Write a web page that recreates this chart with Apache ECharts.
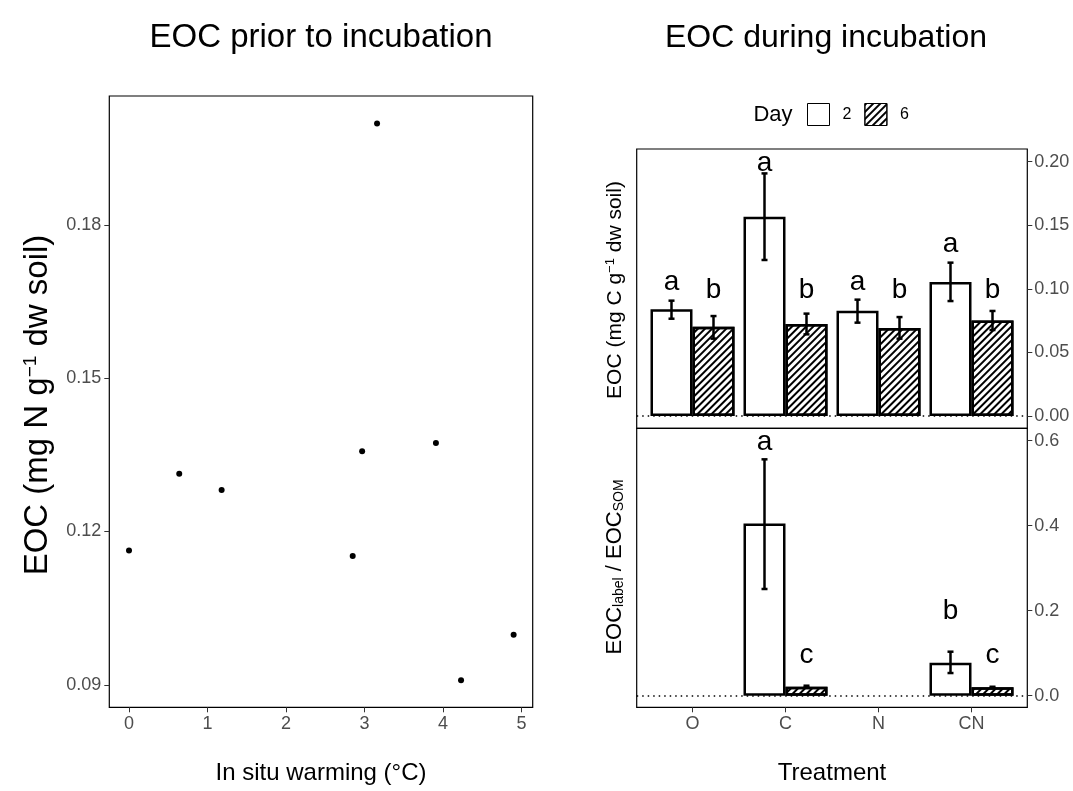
<!DOCTYPE html>
<html>
<head>
<meta charset="utf-8">
<title>EOC prior to and during incubation</title>
<script src="https://cdn.jsdelivr.net/npm/echarts@6/dist/echarts.min.js"></script>
<style>
    html, body { margin: 0; padding: 0; background: #fff; }
    #chart { width: 1073px; height: 791px; }
</style>
</head>
<body>
<div id="chart"></div>
<script>
// ---- left panel: EOC vs in situ warming ----
const warming = [0, 0.64, 1.18, 2.85, 2.97, 3.16, 3.91, 4.23, 4.90];
const eocPrior = [0.1163, 0.1313, 0.1281, 0.1152, 0.1357, 0.1998, 0.1373, 0.0909, 0.0998];
const warmingTicks = [0, 1, 2, 3, 4, 5];
const eocPriorTicks = [0.09, 0.12, 0.15, 0.18];

// ---- right panel: EOC during incubation ----
const treatments = ['O', 'C', 'N', 'CN'];
const days = ['2', '6'];

// top: EOC (mg C / g dw soil)
const eocDay2 = [0.0839, 0.1567, 0.0828, 0.1054];
const eocDay2Lo = [0.0765, 0.1227, 0.0734, 0.0904];
const eocDay2Hi = [0.0907, 0.1908, 0.0915, 0.1206];
const eocDay6 = [0.0702, 0.0723, 0.0692, 0.0750];
const eocDay6Lo = [0.0608, 0.0642, 0.0608, 0.0676];
const eocDay6Hi = [0.0786, 0.0805, 0.0778, 0.0826];
const eocLetters2 = ['a', 'a', 'a', 'a'];
const eocLetters2Y = [0.105, 0.1987, 0.105, 0.135];
const eocLetters6 = ['b', 'b', 'b', 'b'];
const eocLetters6Y = [0.0986, 0.0986, 0.0986, 0.0986];
const eocTicks = [0, 0.05, 0.10, 0.15, 0.20];

// bottom: EOC label / EOC SOM
const ratioDay2 = [null, 0.405, null, 0.0776];
const ratioDay2Lo = [null, 0.251, null, 0.0533];
const ratioDay2Hi = [null, 0.556, null, 0.1035];
const ratioDay6 = [null, 0.0212, null, 0.0196];
const ratioDay6Lo = [null, 0.0190, null, 0.0182];
const ratioDay6Hi = [null, 0.0235, null, 0.0210];
const ratioLetters2 = [null, 'a', null, 'b'];
const ratioLetters2Y = [null, 0.596, null, 0.198];
const ratioLetters6 = [null, 'c', null, 'c'];
const ratioLetters6Y = [null, 0.0956, null, 0.0956];
const ratioTicks = [0, 0.2, 0.4, 0.6];

const FONT = '"Liberation Sans", Arial, Helvetica, sans-serif';
const BAR_W = 42;
const LABEL_GREY = '#4d4d4d';
const TICK_GREY = '#333';

const hatch = {
    symbol: 'rect',
    symbolSize: 1,
    color: '#000',
    dashArrayX: [1, 0],
    dashArrayY: [1.4, 2.8],
    rotation: -Math.PI / 4
};

const barStyle = { color: '#fff', borderColor: '#000', borderWidth: 2.5 };

function barSeries(name, grid, values, withHatch, withZeroLine) {
    const s = {
        name: name,
        type: 'bar',
        xAxisIndex: grid,
        yAxisIndex: grid,
        barWidth: BAR_W,
        barGap: '0%',
        silent: true,
        itemStyle: withHatch ? Object.assign({ decal: hatch }, barStyle) : barStyle,
        data: values.map((v, i) => [i + 1, v == null ? '-' : v])
    };
    if (withZeroLine) {
        s.markLine = {
            silent: true,
            symbol: 'none',
            label: { show: false },
            lineStyle: { type: [1.5, 4], color: '#000', width: 1.5 },
            data: [{ yAxis: 0 }]
        };
    }
    return s;
}

// error bars plus significance letters, shifted to the dodged bar centre
function errorSeries(grid, lo, hi, letters, letterY, side) {
    return {
        type: 'custom',
        xAxisIndex: grid,
        yAxisIndex: grid,
        silent: true,
        z: 5,
        data: treatments.map((t, i) => [i + 1, hi[i] == null ? 0 : hi[i]]),
        renderItem: (params, api) => {
            const i = params.dataIndex;
            const children = [];
            const cx = api.coord([i + 1, 0])[0] + side * BAR_W / 2;
            if (hi[i] != null) {
                const yTop = api.coord([i + 1, hi[i]])[1];
                const yBot = api.coord([i + 1, lo[i]])[1];
                const ls = { stroke: '#000', lineWidth: 2.5 };
                children.push({ type: 'line', shape: { x1: cx, y1: yTop, x2: cx, y2: yBot }, style: ls });
                children.push({ type: 'line', shape: { x1: cx - 3, y1: yTop, x2: cx + 3, y2: yTop }, style: ls });
                children.push({ type: 'line', shape: { x1: cx - 3, y1: yBot, x2: cx + 3, y2: yBot }, style: ls });
            }
            if (letters[i] != null) {
                const ly = api.coord([i + 1, letterY[i]])[1];
                children.push({
                    type: 'text',
                    x: cx,
                    y: ly,
                    style: {
                        text: letters[i],
                        fontFamily: FONT,
                        fontSize: 28,
                        fill: '#000',
                        align: 'center',
                        verticalAlign: 'middle'
                    }
                });
            }
            return { type: 'group', children: children };
        }
    };
}

const chart = echarts.init(document.getElementById('chart'));

const gridBase = { show: true, borderColor: '#000', borderWidth: 1.2, backgroundColor: 'transparent', outerBoundsMode: 'none' };
const noLine = { show: false, onZero: false };

const option = {
    animation: false,
    backgroundColor: '#fff',
    textStyle: { fontFamily: FONT },
    grid: [
        Object.assign({ left: 109.3, top: 96, width: 423.4, height: 611.3 }, gridBase),
        Object.assign({ left: 636.7, top: 149, width: 390.6, height: 279.3 }, gridBase),
        Object.assign({ left: 636.7, top: 428.3, width: 390.6, height: 279 }, gridBase)
    ],
    xAxis: [
        {
            gridIndex: 0, type: 'value', min: -0.251, max: 5.143,
            axisLine: noLine, splitLine: { show: false },
            axisTick: { length: 5, lineStyle: { color: TICK_GREY }, customValues: warmingTicks },
            axisLabel: { customValues: warmingTicks, color: LABEL_GREY, fontSize: 18, margin: 8, fontFamily: FONT }
        },
        {
            gridIndex: 1, type: 'value', min: 0.4, max: 4.6,
            axisLine: noLine, splitLine: { show: false },
            axisTick: { show: false }, axisLabel: { show: false }
        },
        {
            gridIndex: 2, type: 'value', min: 0.4, max: 4.6,
            axisLine: noLine, splitLine: { show: false },
            axisTick: { length: 5, lineStyle: { color: TICK_GREY }, customValues: [1, 2, 3, 4] },
            axisLabel: {
                customValues: [1, 2, 3, 4], color: LABEL_GREY, fontSize: 18, margin: 8, fontFamily: FONT,
                formatter: v => treatments[Math.round(v) - 1]
            }
        }
    ],
    yAxis: [
        {
            gridIndex: 0, type: 'value', min: 0.0856, max: 0.2052,
            axisLine: noLine, splitLine: { show: false },
            axisTick: { length: 5, lineStyle: { color: TICK_GREY }, customValues: eocPriorTicks },
            axisLabel: { customValues: eocPriorTicks, color: LABEL_GREY, fontSize: 18, margin: 8, fontFamily: FONT, formatter: v => v.toFixed(2) }
        },
        {
            gridIndex: 1, type: 'value', position: 'right', min: -0.0097, max: 0.21,
            axisLine: noLine, splitLine: { show: false },
            axisTick: { length: 5, lineStyle: { color: TICK_GREY }, customValues: eocTicks },
            axisLabel: { customValues: eocTicks, color: LABEL_GREY, fontSize: 18, margin: 7, fontFamily: FONT, formatter: v => v.toFixed(2) }
        },
        {
            gridIndex: 2, type: 'value', position: 'right', min: -0.0273, max: 0.629,
            axisLine: noLine, splitLine: { show: false },
            axisTick: { length: 5, lineStyle: { color: TICK_GREY }, customValues: ratioTicks },
            axisLabel: { customValues: ratioTicks, color: LABEL_GREY, fontSize: 18, margin: 7, fontFamily: FONT, formatter: v => v.toFixed(1) }
        }
    ],
    legend: {
        data: days,
        left: 807, top: 103,
        padding: 0,
        itemWidth: 22, itemHeight: 22, itemGap: 13,
        icon: 'rect',
        selectedMode: false,
        itemStyle: { borderColor: '#000', borderWidth: 1 },
        textStyle: { fontSize: 16, color: '#000', fontFamily: FONT, padding: [0, 0, 0, 8] }
    },
    graphic: [
        { type: 'text', x: 321, y: 38, style: { text: 'EOC prior to incubation', fontFamily: FONT, fontSize: 33, fill: '#000', align: 'center', verticalAlign: 'middle' } },
        { type: 'text', x: 826, y: 38, style: { text: 'EOC during incubation', fontFamily: FONT, fontSize: 32, fill: '#000', align: 'center', verticalAlign: 'middle' } },
        { type: 'text', x: 321, y: 773, style: { text: 'In situ warming (°C)', fontFamily: FONT, fontSize: 24, fill: '#000', align: 'center', verticalAlign: 'middle' } },
        { type: 'text', x: 832, y: 773, style: { text: 'Treatment', fontFamily: FONT, fontSize: 24, fill: '#000', align: 'center', verticalAlign: 'middle' } },
        { type: 'text', x: 773, y: 115, style: { text: 'Day', fontFamily: FONT, fontSize: 22, fill: '#000', align: 'center', verticalAlign: 'middle' } },
        {
            type: 'text', x: 38, y: 405, rotation: Math.PI / 2,
            style: {
                text: 'EOC (mg N g{sup|−1} dw soil)', fontFamily: FONT, fontSize: 33, fill: '#000', align: 'center', verticalAlign: 'middle',
                rich: { sup: { fontSize: 19, fontFamily: FONT, verticalAlign: 'top', padding: [0, 0, 14, 0] } }
            }
        },
        {
            type: 'text', x: 615, y: 290, rotation: Math.PI / 2,
            style: {
                text: 'EOC (mg C g{sup|−1} dw soil)', fontFamily: FONT, fontSize: 21, fill: '#000', align: 'center', verticalAlign: 'middle',
                rich: { sup: { fontSize: 13, fontFamily: FONT, verticalAlign: 'top', padding: [0, 0, 9, 0] } }
            }
        },
        {
            type: 'text', x: 615, y: 567, rotation: Math.PI / 2,
            style: {
                text: 'EOC{sub|label} / EOC{sub|SOM}', fontFamily: FONT, fontSize: 22, fill: '#000', align: 'center', verticalAlign: 'middle',
                rich: { sub: { fontSize: 14, fontFamily: FONT, verticalAlign: 'bottom', padding: [8, 0, 0, 0] } }
            }
        }
    ],
    series: [
        {
            type: 'scatter',
            xAxisIndex: 0,
            yAxisIndex: 0,
            symbolSize: 6,
            itemStyle: { color: '#000', opacity: 1 },
            data: warming.map((x, i) => [x, eocPrior[i]])
        },
        barSeries(days[0], 1, eocDay2, false, true),
        barSeries(days[1], 1, eocDay6, true, false),
        barSeries(days[0], 2, ratioDay2, false, true),
        barSeries(days[1], 2, ratioDay6, true, false),
        errorSeries(1, eocDay2Lo, eocDay2Hi, eocLetters2, eocLetters2Y, -1),
        errorSeries(1, eocDay6Lo, eocDay6Hi, eocLetters6, eocLetters6Y, 1),
        errorSeries(2, ratioDay2Lo, ratioDay2Hi, ratioLetters2, ratioLetters2Y, -1),
        errorSeries(2, ratioDay6Lo, ratioDay6Hi, ratioLetters6, ratioLetters6Y, 1)
    ]
};

chart.setOption(option);
</script>
</body>
</html>
